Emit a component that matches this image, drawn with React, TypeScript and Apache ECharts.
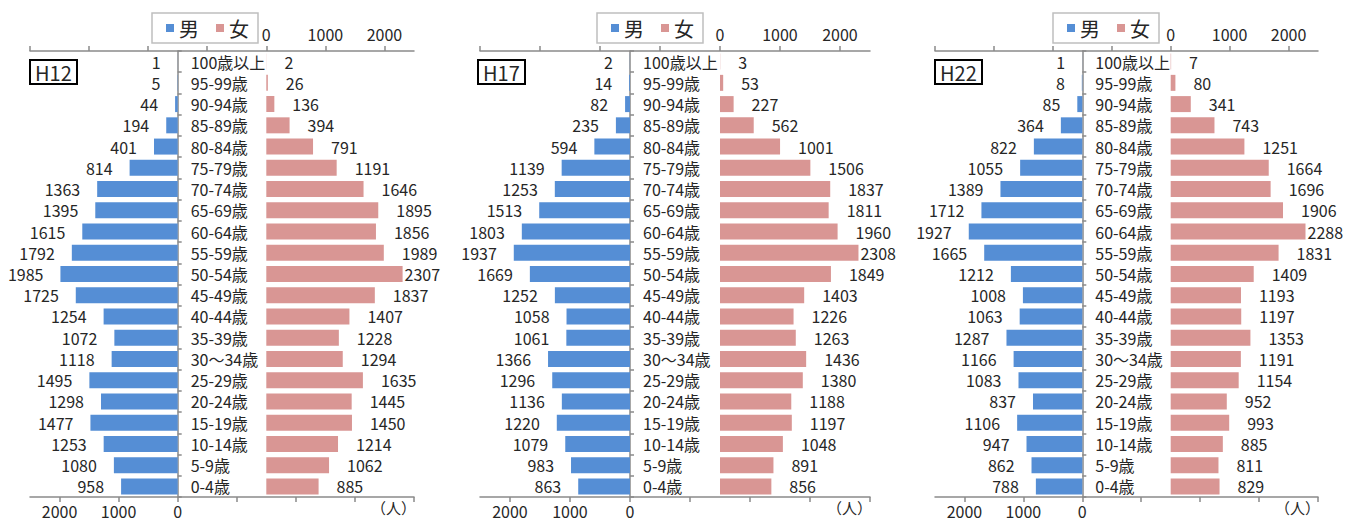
import React, { useEffect, useRef } from 'react';
import * as echarts from 'echarts';

// ---- data ----
const categories = ['100歳以上', '95-99歳', '90-94歳', '85-89歳', '80-84歳', '75-79歳', '70-74歳', '65-69歳', '60-64歳', '55-59歳', '50-54歳', '45-49歳', '40-44歳', '35-39歳', '30～34歳', '25-29歳', '20-24歳', '15-19歳', '10-14歳', '5-9歳', '0-4歳'];
const periods = ['H12', 'H17', 'H22'];
const legendNames = ['男', '女'];
const unitLabel = '（人）';

const maleH12 = [1, 5, 44, 194, 401, 814, 1363, 1395, 1615, 1792, 1985, 1725, 1254, 1072, 1118, 1495, 1298, 1477, 1253, 1080, 958];
const femaleH12 = [2, 26, 136, 394, 791, 1191, 1646, 1895, 1856, 1989, 2307, 1837, 1407, 1228, 1294, 1635, 1445, 1450, 1214, 1062, 885];
const maleH17 = [2, 14, 82, 235, 594, 1139, 1253, 1513, 1803, 1937, 1669, 1252, 1058, 1061, 1366, 1296, 1136, 1220, 1079, 983, 863];
const femaleH17 = [3, 53, 227, 562, 1001, 1506, 1837, 1811, 1960, 2308, 1849, 1403, 1226, 1263, 1436, 1380, 1188, 1197, 1048, 891, 856];
const maleH22 = [1, 8, 85, 364, 822, 1055, 1389, 1712, 1927, 1665, 1212, 1008, 1063, 1287, 1166, 1083, 837, 1106, 947, 862, 788];
const femaleH22 = [7, 80, 341, 743, 1251, 1664, 1696, 1906, 2288, 1831, 1409, 1193, 1197, 1353, 1191, 1154, 952, 993, 885, 811, 829];

const axisMin = -4000;
const axisMax = 2500;
const axisInterval = 1000;
const tickValues = [-4000, -3000, -2000, -1000, 0, 1000, 2000];
const labelValues = [0, 1000, 2000];

const maleData = [maleH12, maleH17, maleH22];
const femaleData = [femaleH12, femaleH17, femaleH22];

// ---- layout / style ----
const FONT = '"Noto Sans CJK JP", "Noto Sans", sans-serif';
const TEXT = '#262626';
const AXIS = '#8a8a8a';
const BLUE = '#558ED5';
const PINK = '#D99694';

const panels = [
  { left: 30, width: 384, legendLeft: 152, boxLeft: 30 },
  { left: 480, width: 390, legendLeft: 597, boxLeft: 478 },
  { left: 935, width: 383, legendLeft: 1053, boxLeft: 935 },
];
const GRID_TOP = 51;
const GRID_H = 446;

export default function App() {
  const ref = useRef<HTMLDivElement>(null);
  useEffect(() => {
    if (!ref.current) return;
    const chart = echarts.init(ref.current, null, { renderer: 'svg' });

    const grid: any[] = [];
    const xAxis: any[] = [];
    const yAxis: any[] = [];
    const series: any[] = [];
    const legend: any[] = [];
    const title: any[] = [];

    const axisLine = { show: true, onZero: false, lineStyle: { color: AXIS, width: 1.5 } };
    const fmt = (v: number) => String(v);

    panels.forEach((p, i) => {
      grid.push({ left: p.left, width: p.width, top: GRID_TOP, height: GRID_H, outerBoundsMode: 'none', containLabel: false });
      // male axis (bottom, reversed)
      xAxis.push({
        gridIndex: i, type: 'value', position: 'bottom', inverse: true,
        min: axisMin, max: axisMax, interval: axisInterval,
        axisLine,
        axisTick: { show: true, length: 5, customValues: tickValues, lineStyle: { color: AXIS, width: 1.5 } },
        axisLabel: { customValues: labelValues, formatter: fmt, fontSize: 16, color: TEXT, fontFamily: FONT, margin: 6 },
        splitLine: { show: false },
      });
      // female axis (top)
      xAxis.push({
        gridIndex: i, type: 'value', position: 'top',
        min: axisMin, max: axisMax, interval: axisInterval,
        axisLine,
        axisTick: { show: true, length: 5, customValues: tickValues, lineStyle: { color: AXIS, width: 1.5 } },
        axisLabel: { customValues: labelValues, formatter: fmt, fontSize: 16, color: TEXT, fontFamily: FONT, margin: 9 },
        splitLine: { show: false },
      });
      // category axis sits on the male zero line
      const zeroOffset = (p.width * axisMax) / (axisMax - axisMin);
      yAxis.push({
        gridIndex: i, type: 'category', data: categories, inverse: true, position: 'left',
        offset: -zeroOffset,
        axisLine: { show: true, onZero: false, lineStyle: { color: AXIS, width: 1.5 } },
        axisTick: { show: true, inside: true, length: 4, lineStyle: { color: AXIS, width: 1.5 } },
        axisLabel: { inside: true, margin: 13, fontSize: 16, color: TEXT, fontFamily: FONT },
        splitLine: { show: false },
      });
      series.push({
        type: 'bar', name: legendNames[0], xAxisIndex: 2 * i, yAxisIndex: i,
        data: maleData[i], barWidth: 16, barGap: '-100%',
        itemStyle: { color: BLUE },
        label: { show: true, position: 'left', distance: 17, fontSize: 16, color: TEXT, fontFamily: FONT },
      });
      series.push({
        type: 'bar', name: legendNames[1], xAxisIndex: 2 * i + 1, yAxisIndex: i,
        data: femaleData[i].map((v) => (v > 2200 ? { value: v, label: { distance: 2 } } : v)),
        barWidth: 16, barGap: '-100%',
        itemStyle: { color: PINK },
        label: { show: true, position: 'right', distance: 18, fontSize: 16, color: TEXT, fontFamily: FONT },
      });
      legend.push({
        left: p.legendLeft, top: 13, data: legendNames, icon: 'rect',
        itemWidth: 8, itemHeight: 8, itemGap: 17, padding: [5, 9, 5, 14],
        borderColor: '#bfbfbf', borderWidth: 1.5, selectedMode: false,
        textStyle: { fontSize: 20, color: TEXT, fontFamily: FONT },
      });
      title.push({
        text: periods[i], left: p.boxLeft, top: 60, padding: [2, 5, 2, 5],
        borderColor: '#000', borderWidth: 2,
        textStyle: { fontSize: 20, fontWeight: 'normal', color: TEXT, fontFamily: FONT },
      });
      title.push({
        text: unitLabel, right: 1346 - (p.left + p.width) - 2, top: 500, padding: 0,
        textStyle: { fontSize: 15, fontWeight: 'normal', color: TEXT, fontFamily: FONT },
      });
    });

    chart.setOption({ animation: false, grid, xAxis, yAxis, series, legend, title });
    return () => chart.dispose();
  }, []);
  return <div ref={ref} style={{ position: 'fixed', left: 0, top: 0, width: 1346, height: 520, background: '#fff' }} />;
}
